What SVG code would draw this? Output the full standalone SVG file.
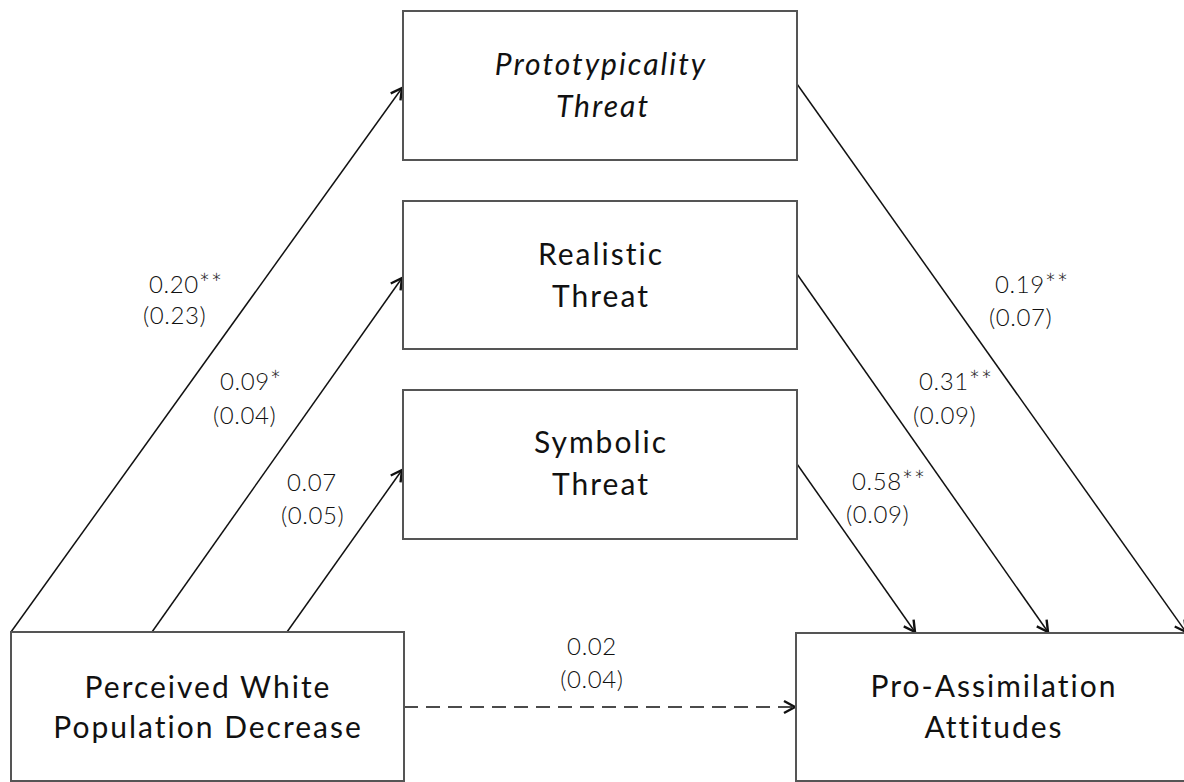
<svg xmlns="http://www.w3.org/2000/svg" width="1184" height="782" viewBox="0 0 1184 782">
<defs>
<marker id="arr" markerUnits="userSpaceOnUse" markerWidth="16" markerHeight="16" viewBox="-13 -8 16 16" refX="0" refY="0" orient="auto" overflow="visible">
<path d="M-11,-6 L0,0 L-11,6" fill="none" stroke="#111" stroke-width="2.4" stroke-linejoin="miter"/>
</marker>
<style>
.box{fill:#fff;stroke:#555;stroke-width:2}
.bt{font-family:Lato,"Open Sans",sans-serif;font-size:30px;letter-spacing:2px;fill:#111;text-anchor:middle}
.it{font-style:italic}
.lb{font-family:Lato,"Open Sans",sans-serif;font-size:24px;font-weight:300;letter-spacing:0.6px;fill:#111}
.st{font-size:27px}
.mid{text-anchor:middle}
.ln{fill:none;stroke:#111;stroke-width:1.5;marker-end:url(#arr)}
.dash{stroke-dasharray:14 8}
</style>
</defs>
<rect width="1184" height="782" fill="#fff"/>
<g id="connectors">
<line class="ln" x1="11" y1="632" x2="402" y2="88"/>
<line class="ln" x1="152" y1="632" x2="402" y2="278"/>
<line class="ln" x1="287" y1="632" x2="402" y2="470"/>
<line class="ln" x1="797" y1="84" x2="1186" y2="632"/>
<line class="ln" x1="797" y1="274" x2="1048" y2="632"/>
<line class="ln" x1="797" y1="464" x2="915" y2="632"/>
<line class="ln dash" x1="404" y1="707" x2="795" y2="707"/>
</g>
<g id="labels">
<text class="lb" x="149" y="293">0.20<tspan class="st">**</tspan></text>
<text class="lb" x="143" y="324">(0.23)</text>
<text class="lb" x="220" y="390">0.09<tspan class="st">*</tspan></text>
<text class="lb" x="213" y="424">(0.04)</text>
<text class="lb" x="287" y="491">0.07</text>
<text class="lb" x="281" y="524">(0.05)</text>
<text class="lb" x="995" y="293">0.19<tspan class="st">**</tspan></text>
<text class="lb" x="989" y="326">(0.07)</text>
<text class="lb" x="919" y="390">0.31<tspan class="st">**</tspan></text>
<text class="lb" x="913" y="424">(0.09)</text>
<text class="lb" x="852" y="490">0.58<tspan class="st">**</tspan></text>
<text class="lb" x="846" y="523">(0.09)</text>
<text class="lb mid" x="592" y="655">0.02</text>
<text class="lb mid" x="592" y="688">(0.04)</text>
</g>
<g id="proto">
<rect class="box" x="403" y="11" width="394" height="149"/>
<text class="bt it" x="601" y="75">Prototypicality</text>
<text class="bt it" x="603" y="117">Threat</text>
</g>
<g id="realistic">
<rect class="box" x="403" y="201" width="394" height="148"/>
<text class="bt" x="601" y="265">Realistic</text>
<text class="bt" x="601" y="307">Threat</text>
</g>
<g id="symbolic">
<rect class="box" x="403" y="390" width="394" height="149"/>
<text class="bt" x="601" y="453">Symbolic</text>
<text class="bt" x="601" y="495">Threat</text>
</g>
<g id="perceived">
<rect class="box" x="11" y="632" width="393" height="149"/>
<text class="bt" x="208" y="698">Perceived White</text>
<text class="bt" x="208" y="738">Population Decrease</text>
</g>
<g id="proassim">
<rect class="box" x="796" y="633" width="400" height="148"/>
<text class="bt" x="994" y="697">Pro-Assimilation</text>
<text class="bt" x="994" y="738">Attitudes</text>
</g>
</svg>
